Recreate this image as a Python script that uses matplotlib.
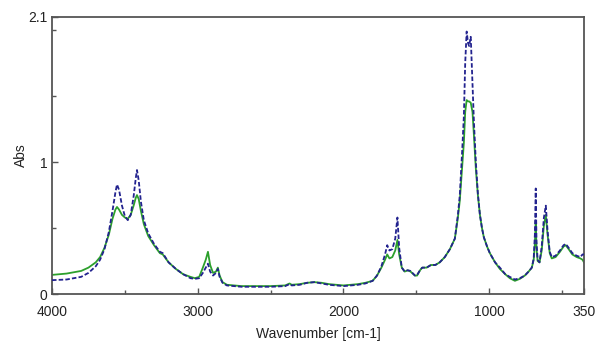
import numpy as np
import matplotlib.pyplot as plt

plt.rcParams['font.family'] = ['Liberation Sans', 'DejaVu Sans']

# wavenumber (cm-1), absorbance of the two spectra
wavenumber = [4000, 3900, 3800, 3750, 3700, 3670, 3640, 3610, 3585, 3565, 3554, 3540,
              3520, 3500, 3480, 3460, 3440, 3425, 3417, 3405, 3390, 3370, 3340, 3300,
              3260, 3240, 3200, 3150, 3100, 3050, 3020, 2990, 2965, 2945, 2930, 2915,
              2895, 2875, 2862, 2850, 2830, 2800, 2700, 2600, 2500, 2400, 2370, 2355,
              2300, 2250, 2200, 2150, 2100, 2050, 2000, 1950, 1900, 1850, 1800, 1770,
              1740, 1715, 1700, 1685, 1665, 1645, 1630, 1618, 1600, 1580, 1560, 1540,
              1510, 1495, 1475, 1460, 1430, 1400, 1370, 1340, 1305, 1270, 1236, 1215,
              1202, 1185, 1174, 1165, 1155, 1145, 1138, 1127, 1115, 1105, 1092, 1078,
              1064, 1050, 1037, 1015, 996, 960, 927, 890, 859, 824, 790, 756, 730, 708,
              695, 687, 681, 676, 668, 655, 640, 625, 612, 600, 585, 571, 545, 515, 490,
              475, 455, 430, 400, 375, 360, 350]

abs_green = [0.145, 0.155, 0.175, 0.2, 0.24, 0.28, 0.35, 0.45, 0.57, 0.64, 0.66, 0.64,
             0.6, 0.58, 0.57, 0.6, 0.67, 0.73, 0.75, 0.72, 0.63, 0.53, 0.44, 0.37,
             0.31, 0.3, 0.24, 0.19, 0.15, 0.13, 0.12, 0.13, 0.2, 0.26, 0.32, 0.22,
             0.16, 0.17, 0.2, 0.14, 0.09, 0.07, 0.06, 0.06, 0.06, 0.065, 0.08, 0.07,
             0.075, 0.085, 0.09, 0.085, 0.075, 0.07, 0.065, 0.07, 0.075, 0.085, 0.1, 0.14,
             0.2, 0.26, 0.3, 0.27, 0.28, 0.33, 0.41, 0.3, 0.2, 0.17, 0.18, 0.17,
             0.14, 0.14, 0.18, 0.2, 0.2, 0.22, 0.22, 0.24, 0.28, 0.34, 0.42, 0.58,
             0.71, 0.98, 1.15, 1.38, 1.47, 1.46, 1.46, 1.45, 1.38, 1.2, 0.95, 0.75,
             0.6, 0.5, 0.43, 0.36, 0.31, 0.24, 0.19, 0.15, 0.12, 0.1, 0.115, 0.14, 0.17, 0.2,
             0.26, 0.38, 0.55, 0.35, 0.25, 0.24, 0.33, 0.52, 0.6, 0.45, 0.31, 0.27, 0.28, 0.32, 0.36,
             0.37, 0.34, 0.3, 0.28, 0.27, 0.26, 0.24]

abs_blue = [0.105, 0.11, 0.13, 0.16, 0.21, 0.26, 0.34, 0.47, 0.63, 0.77, 0.83, 0.79,
            0.67, 0.59, 0.56, 0.6, 0.74, 0.88, 0.94, 0.86, 0.7, 0.56, 0.46, 0.38,
            0.32, 0.31, 0.24, 0.19, 0.15, 0.12, 0.115, 0.12, 0.16, 0.2, 0.23, 0.17,
            0.14, 0.16, 0.19, 0.13, 0.085, 0.065, 0.055, 0.055, 0.055, 0.06, 0.075, 0.065,
            0.07, 0.085, 0.09, 0.08, 0.07, 0.065, 0.06, 0.065, 0.07, 0.08, 0.1, 0.14,
            0.21, 0.3, 0.37, 0.33, 0.34, 0.42, 0.58, 0.35, 0.2, 0.17, 0.18, 0.175,
            0.14, 0.145, 0.18, 0.2, 0.2, 0.22, 0.22, 0.24, 0.28, 0.34, 0.42, 0.6,
            0.75, 1.1, 1.35, 1.75, 1.99, 1.9, 1.88, 1.95, 1.6, 1.3, 1.0, 0.76,
            0.6, 0.5, 0.43, 0.36, 0.31, 0.24, 0.2, 0.15, 0.13, 0.11, 0.12, 0.14, 0.17, 0.2,
            0.27, 0.45, 0.8, 0.4, 0.26, 0.24, 0.36, 0.58, 0.67, 0.48, 0.32, 0.28, 0.29, 0.33, 0.37,
            0.38, 0.35, 0.31, 0.29, 0.28, 0.3, 0.3]

xticks = [4000, 3000, 2000, 1000, 350]
xminor = [3500, 2500, 1500, 500]
yticks = [0, 1, 2.1]
yminor = [0.5, 1.5, 2.0]

fig = plt.figure(figsize=(5.97, 3.44), dpi=100)
ax = fig.add_axes([0.0871, 0.1453, 0.8911, 0.8053])

ax.plot(wavenumber, abs_green, color='#2ca02c', lw=1.3, zorder=2)
ax.plot(wavenumber, abs_blue, color='#23238f', lw=1.3, ls=(0, (2.5, 1.2)), zorder=3)

ax.set_xlim(4000, 350)
ax.set_ylim(0, 2.1)
ax.set_xticks(xticks)
ax.set_xticklabels([str(t) for t in xticks])
ax.set_xticks(xminor, minor=True)
ax.set_yticks(yticks)
ax.set_yticklabels(['0', '1', '2.1'])
ax.set_yticks(yminor, minor=True)
ax.tick_params(which='both', direction='in', colors='#555555', labelcolor='#222222',
               labelsize=10)
ax.tick_params(which='major', length=4, width=1)
ax.tick_params(which='minor', length=3, width=1)
ax.tick_params(axis='x', which='major', pad=8)
for sp in ax.spines.values():
    sp.set_color('#555555')
    sp.set_linewidth(1.3)

ax.set_xlabel('Wavenumber [cm-1]', fontsize=10, color='#222222', labelpad=6)
ax.set_ylabel('Abs', fontsize=10, color='#222222', labelpad=0)

fig.savefig('out.png', dpi=100)
